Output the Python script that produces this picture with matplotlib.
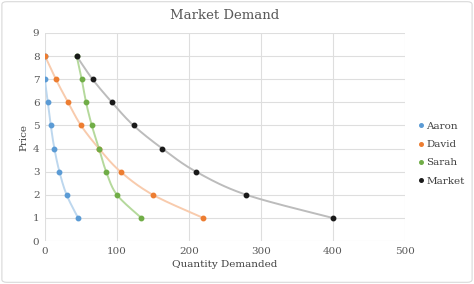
import numpy as np
import matplotlib.pyplot as plt
from matplotlib.patches import FancyBboxPatch

prices = [8, 7, 6, 5, 4, 3, 2, 1]
aaron = [0, 0, 4, 8, 13, 20, 30, 46]
david = [0, 15, 32, 50, 75, 105, 150, 220]
sarah = [44, 51, 57, 65, 75, 85, 100, 134]
market = [44, 66, 93, 123, 163, 210, 280, 400]

names = ["Aaron", "David", "Sarah", "Market"]
marker_colors = ["#5B9BD5", "#ED7D31", "#70AD47", "#1a1a1a"]
line_colors = ["#bdd7ee", "#f8cbad", "#b5d99c", "#bcbcbc"]


def smooth(xs, ys, n=20):
    # Excel-like smoothed line (Catmull-Rom through the points)
    pts = np.column_stack([xs, ys]).astype(float)
    p = np.vstack([pts[0], pts, pts[-1]])
    out = []
    t = np.linspace(0, 1, n)[:, None]
    for i in range(1, len(p) - 2):
        p0, p1, p2, p3 = p[i - 1], p[i], p[i + 1], p[i + 2]
        seg = 0.5 * ((2 * p1) + (-p0 + p2) * t + (2 * p0 - 5 * p1 + 4 * p2 - p3) * t ** 2
                     + (-p0 + 3 * p1 - 3 * p2 + p3) * t ** 3)
        out.append(seg)
    out = np.vstack(out)
    return out[:, 0], out[:, 1]


plt.rcParams['font.family'] = ['DejaVu Serif']
txt = "#595959"

fig = plt.figure(figsize=(4.74, 2.84), dpi=100)
fig.patches.append(FancyBboxPatch((0.004, 0.006), 0.992, 0.988, boxstyle="round,pad=0,rounding_size=0.01",
                                  transform=fig.transFigure, fill=False, edgecolor="#d9d9d9", lw=0.8))
ax = fig.add_axes([0.095, 0.151, 0.759, 0.733])

for name, qs, mc, lc in zip(names, [aaron, david, sarah, market], marker_colors, line_colors):
    sx, sy = smooth(qs, prices)
    ax.plot(sx, sy, color=lc, lw=1.4, zorder=2)
    ax.plot(qs, prices, 'o', color=mc, ms=3.2, zorder=3, label=name)

ax.set_xlim(0, 500)
ax.set_ylim(0, 9)
ax.set_xticks(range(0, 501, 100))
ax.set_yticks(range(0, 10))
ax.grid(True, color="#dedede", lw=0.8)
ax.set_axisbelow(True)
for s in ax.spines.values():
    s.set_visible(False)
ax.tick_params(length=0, labelsize=7.5, colors=txt, pad=4)
ax.set_title("Market Demand", fontsize=9.5, color=txt, pad=10)
ax.set_xlabel("Quantity Demanded", fontsize=7.5, color="#404040", labelpad=3)
ax.set_ylabel("Price", fontsize=7.5, color="#404040", labelpad=3)

leg = ax.legend(loc="center left", bbox_to_anchor=(1.005, 0.42), frameon=False, fontsize=7.5,
                handletextpad=0.0, handlelength=1.0, labelspacing=0.85, markerscale=0.8)
for t in leg.get_texts():
    t.set_color("#404040")

fig.savefig("out.png", dpi=100)
